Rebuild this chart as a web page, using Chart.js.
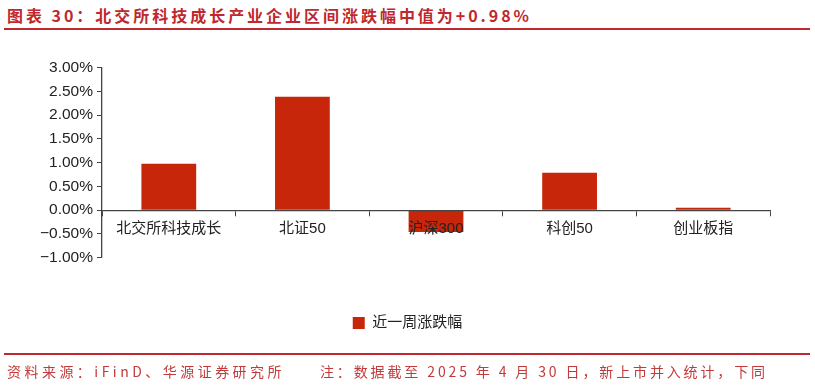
<!DOCTYPE html>
<html>
<head>
<meta charset="utf-8">
<script src="https://cdn.jsdelivr.net/npm/chart.js@4/dist/chart.umd.min.js"></script>
<style>
  html, body { margin:0; padding:0; background:#fff; }
  #wrap { position:relative; width:815px; height:387px; overflow:hidden; background:#fff; }
  #c { position:absolute; left:0; top:0; }
  .txt { position:absolute; white-space:nowrap; font-family:"Noto Sans CJK SC", sans-serif; }
  #title { left:7px; top:4px; font-size:16px; font-weight:bold; color:#C0282D; line-height:22px; }
  .line { position:absolute; left:4px; width:806px; height:2px; background:#C0282D; }
  .src { top:361px; font-size:14px; color:#C23B3B; line-height:20px; }
</style>
</head>
<body>
<div id="wrap">
  <div class="txt" id="title" data-w="525">图表 30：北交所科技成长产业企业区间涨跌幅中值为+0.98%</div>
  <div class="line" style="top:28px"></div>
  <canvas id="c" width="815" height="387"></canvas>
  <div class="line" style="top:353px"></div>
  <div class="txt src" id="src1" style="left:7px" data-w="278">资料来源：iFinD、华源证券研究所</div>
  <div class="txt src" id="src2" style="left:320px" data-w="448">注：数据截至 2025 年 4 月 30 日，新上市并入统计，下同</div>
</div>
<script>
// ---- data ----
const categories = ['北交所科技成长', '北证50', '沪深300', '科创50', '创业板指'];
const weeklyChange = [0.98, 2.39, -0.46, 0.79, 0.05];
const seriesName = '近一周涨跌幅';
const yMin = -1, yMax = 3, yStep = 0.5;

// fit header/footer text widths
document.querySelectorAll('.txt[data-w]').forEach(el => {
  const target = parseFloat(el.dataset.w);
  const n = [...el.textContent].length;
  const w = el.getBoundingClientRect().width;
  el.style.letterSpacing = ((target - w) / n) + 'px';
});

const FONT = '"Liberation Sans", Arial, "Noto Sans CJK SC", sans-serif';
Chart.defaults.font.family = FONT;
Chart.defaults.color = '#222';

new Chart(document.getElementById('c'), {
  type: 'bar',
  data: {
    labels: categories,
    datasets: [{
      label: seriesName,
      data: weeklyChange,
      xAxisID: 'x',
      yAxisID: 'y',
      backgroundColor: '#C8260A',
      borderWidth: 0,
      categoryPercentage: 1,
      barPercentage: 0.41
    }]
  },
  options: {
    responsive: false,
    animation: false,
    devicePixelRatio: 1,
    layout: { padding: { top: 67.7, right: 0, bottom: 46.5, left: 0 } },
    plugins: {
      legend: {
        position: 'bottom',
        labels: { boxWidth: 12, boxHeight: 12, padding: 10, color: '#222', font: { size: 15, family: FONT } }
      },
      tooltip: { enabled: false }
    },
    scales: {
      x: {
        position: { y: 0 },
        offset: true,
        grid: { display: true, drawOnChartArea: false, drawTicks: true, tickLength: 5, color: '#444', offset: true, z: 1 },
        border: { display: true, color: '#444', width: 1.3, z: 1 },
        ticks: { padding: 5, color: '#222', font: { size: 15 }, maxRotation: 0, autoSkip: false, z: 1 }
      },
      gap: {
        axis: 'x',
        type: 'category',
        labels: categories,
        position: 'bottom',
        display: true,
        grid: { display: false },
        border: { display: false },
        ticks: { display: false },
        afterFit(s) { s.height = 47.8; }
      },
      y: {
        min: yMin, max: yMax,
        grid: { display: true, drawOnChartArea: false, drawTicks: true, tickLength: 5, color: '#444' },
        border: { display: true, color: '#444', width: 1.3 },
        ticks: {
          stepSize: yStep, padding: 4, color: '#222', font: { size: 15.5 },
          callback: v => (v < 0 ? '\u2212' + Math.abs(v).toFixed(2) : v.toFixed(2)) + '%'
        },
        afterFit(s) { s.width = 102; }
      },
      gapR: {
        axis: 'y',
        type: 'linear',
        position: 'right',
        display: true,
        grid: { display: false },
        border: { display: false },
        ticks: { display: false },
        afterFit(s) { s.width = 45; }
      }
    }
  }
});
</script>
</body>
</html>
